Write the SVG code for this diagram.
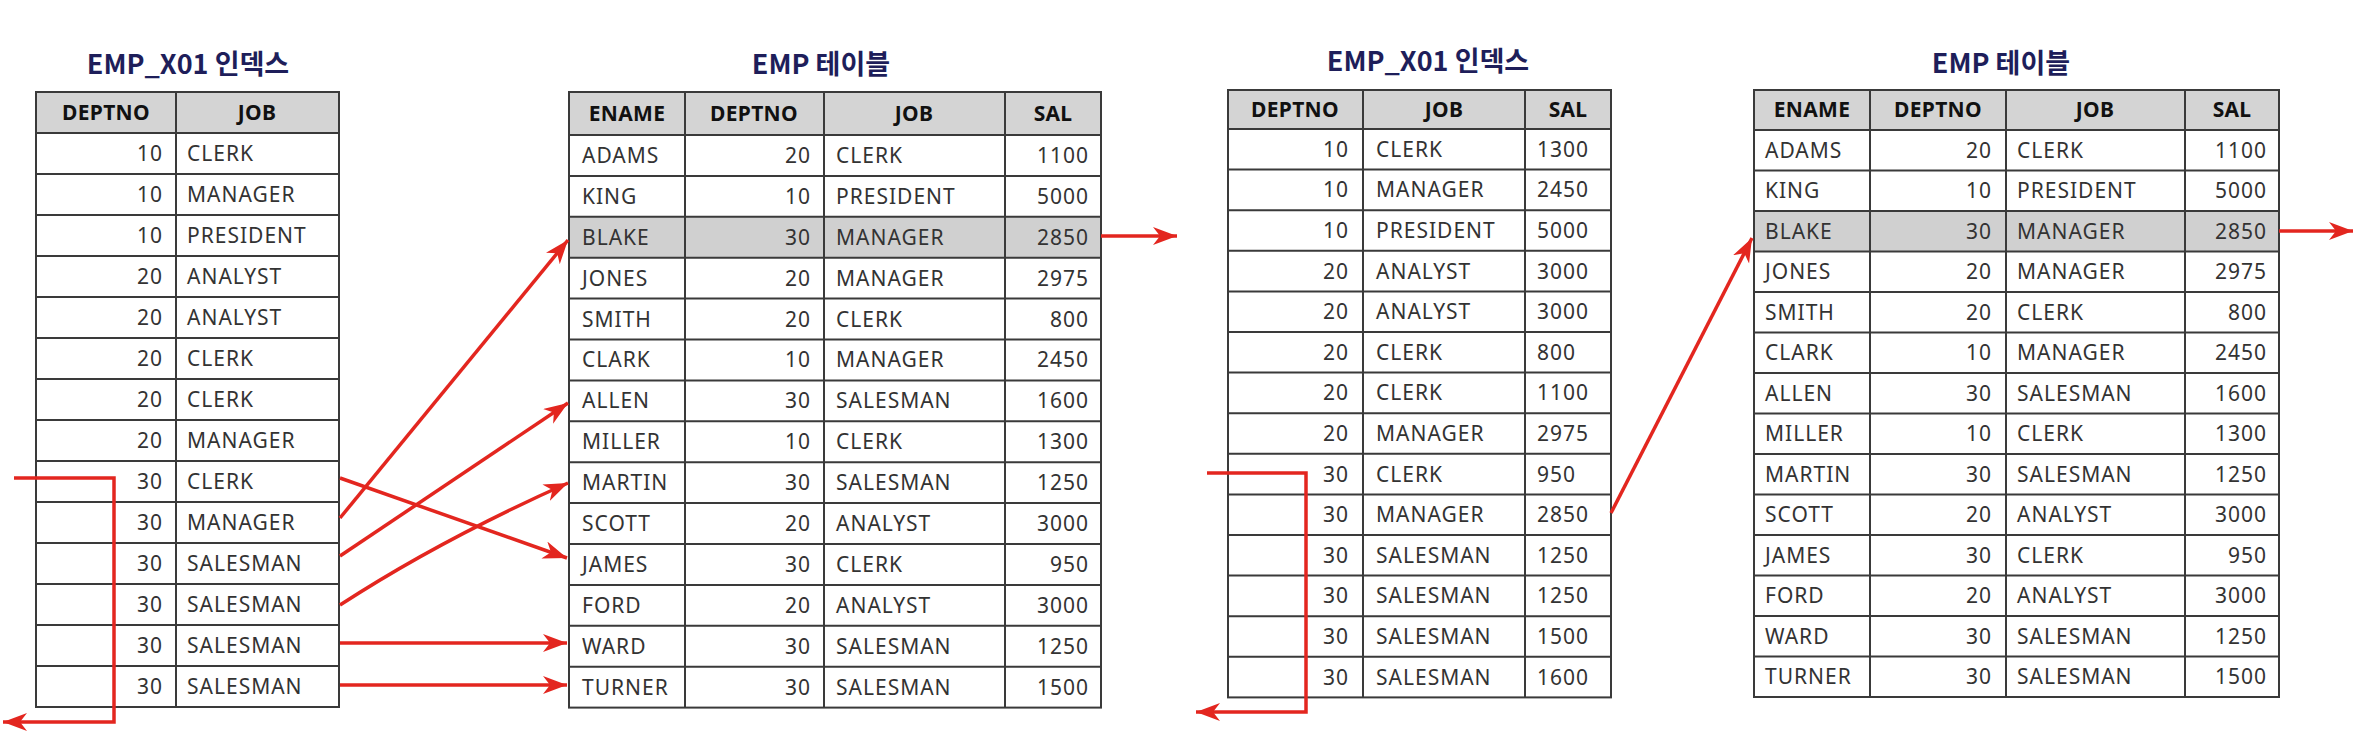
<svg xmlns="http://www.w3.org/2000/svg" width="2370" height="744" viewBox="0 0 2370 744">
<style>
.bg{fill:#fff}
.hdr{fill:#d4d4d4}
.hl{fill:#d0d0d0}
.frame{fill:none;stroke:#3a3a3a;stroke-width:2}
.grid{fill:none;stroke:#3a3a3a;stroke-width:2}
.t{font-family:"Noto Sans","Noto Sans CJK KR",sans-serif;font-size:21px;fill:#333;letter-spacing:1px}
.h{font-weight:bold;fill:#111;text-anchor:middle;letter-spacing:0.3px}
.r{text-anchor:end}
.title{font-family:"Noto Sans CJK KR","Noto Sans",sans-serif;font-size:27px;font-weight:bold;fill:#1e1e5a;text-anchor:middle}
.conn{stroke:#e3261f;stroke-width:3.5;fill:none;marker-end:url(#ah)}
</style>
<defs>
<marker id="ah" markerUnits="userSpaceOnUse" markerWidth="26" markerHeight="20" refX="24" refY="9" orient="auto">
<path d="M0,0 L24,9 L0,18 L7,9 z" fill="#e3261f"/>
</marker>
</defs>
<rect class="bg" x="0" y="0" width="2370" height="744"/>

<g id="emp-x01-index-1">
<text class="title" x="188" y="74">EMP_X01 인덱스</text>
<rect class="hdr" x="36" y="92" width="303" height="41"/>
<path class="grid" d="M36 133H339M36 174H339M36 215H339M36 256H339M36 297H339M36 338H339M36 379H339M36 420H339M36 461H339M36 502H339M36 543H339M36 584H339M36 625H339M36 666H339M176 92V707"/>
<rect class="frame" x="36" y="92" width="303" height="615"/>
<g class="t">
<text class="h" x="106" y="120">DEPTNO</text><text class="h" x="257" y="120">JOB</text>
<text class="r" x="163" y="161">10</text><text x="187" y="161">CLERK</text>
<text class="r" x="163" y="202">10</text><text x="187" y="202">MANAGER</text>
<text class="r" x="163" y="243">10</text><text x="187" y="243">PRESIDENT</text>
<text class="r" x="163" y="284">20</text><text x="187" y="284">ANALYST</text>
<text class="r" x="163" y="325">20</text><text x="187" y="325">ANALYST</text>
<text class="r" x="163" y="366">20</text><text x="187" y="366">CLERK</text>
<text class="r" x="163" y="407">20</text><text x="187" y="407">CLERK</text>
<text class="r" x="163" y="448">20</text><text x="187" y="448">MANAGER</text>
<text class="r" x="163" y="489">30</text><text x="187" y="489">CLERK</text>
<text class="r" x="163" y="530">30</text><text x="187" y="530">MANAGER</text>
<text class="r" x="163" y="571">30</text><text x="187" y="571">SALESMAN</text>
<text class="r" x="163" y="612">30</text><text x="187" y="612">SALESMAN</text>
<text class="r" x="163" y="653">30</text><text x="187" y="653">SALESMAN</text>
<text class="r" x="163" y="694">30</text><text x="187" y="694">SALESMAN</text>
</g>
</g>

<g id="emp-table-1">
<text class="title" x="821" y="74">EMP 테이블</text>
<rect class="hdr" x="569" y="92" width="532" height="43"/>
<rect class="hl" x="569" y="216.8" width="532" height="40.9"/>
<path class="grid" d="M569 135H1101M569 175.9H1101M569 216.8H1101M569 257.7H1101M569 298.6H1101M569 339.5H1101M569 380.4H1101M569 421.3H1101M569 462.2H1101M569 503.1H1101M569 544H1101M569 584.9H1101M569 625.8H1101M569 666.7H1101M685 92V707.6M824 92V707.6M1005 92V707.6"/>
<rect class="frame" x="569" y="92" width="532" height="615.6"/>
<g class="t">
<text class="h" x="627" y="121">ENAME</text><text class="h" x="754" y="121">DEPTNO</text><text class="h" x="914" y="121">JOB</text><text class="h" x="1053" y="121">SAL</text>
<text x="582" y="163">ADAMS</text><text class="r" x="811" y="163">20</text><text x="836" y="163">CLERK</text><text class="r" x="1089" y="163">1100</text>
<text x="582" y="204">KING</text><text class="r" x="811" y="204">10</text><text x="836" y="204">PRESIDENT</text><text class="r" x="1089" y="204">5000</text>
<text x="582" y="245">BLAKE</text><text class="r" x="811" y="245">30</text><text x="836" y="245">MANAGER</text><text class="r" x="1089" y="245">2850</text>
<text x="582" y="286">JONES</text><text class="r" x="811" y="286">20</text><text x="836" y="286">MANAGER</text><text class="r" x="1089" y="286">2975</text>
<text x="582" y="327">SMITH</text><text class="r" x="811" y="327">20</text><text x="836" y="327">CLERK</text><text class="r" x="1089" y="327">800</text>
<text x="582" y="367">CLARK</text><text class="r" x="811" y="367">10</text><text x="836" y="367">MANAGER</text><text class="r" x="1089" y="367">2450</text>
<text x="582" y="408">ALLEN</text><text class="r" x="811" y="408">30</text><text x="836" y="408">SALESMAN</text><text class="r" x="1089" y="408">1600</text>
<text x="582" y="449">MILLER</text><text class="r" x="811" y="449">10</text><text x="836" y="449">CLERK</text><text class="r" x="1089" y="449">1300</text>
<text x="582" y="490">MARTIN</text><text class="r" x="811" y="490">30</text><text x="836" y="490">SALESMAN</text><text class="r" x="1089" y="490">1250</text>
<text x="582" y="531">SCOTT</text><text class="r" x="811" y="531">20</text><text x="836" y="531">ANALYST</text><text class="r" x="1089" y="531">3000</text>
<text x="582" y="572">JAMES</text><text class="r" x="811" y="572">30</text><text x="836" y="572">CLERK</text><text class="r" x="1089" y="572">950</text>
<text x="582" y="613">FORD</text><text class="r" x="811" y="613">20</text><text x="836" y="613">ANALYST</text><text class="r" x="1089" y="613">3000</text>
<text x="582" y="654">WARD</text><text class="r" x="811" y="654">30</text><text x="836" y="654">SALESMAN</text><text class="r" x="1089" y="654">1250</text>
<text x="582" y="695">TURNER</text><text class="r" x="811" y="695">30</text><text x="836" y="695">SALESMAN</text><text class="r" x="1089" y="695">1500</text>
</g>
</g>

<g id="emp-x01-index-2">
<text class="title" x="1428" y="71">EMP_X01 인덱스</text>
<rect class="hdr" x="1228" y="90" width="383" height="39"/>
<path class="grid" d="M1228 129H1611M1228 169.6H1611M1228 210.2H1611M1228 250.8H1611M1228 291.4H1611M1228 332H1611M1228 372.6H1611M1228 413.2H1611M1228 453.8H1611M1228 494.4H1611M1228 535H1611M1228 575.6H1611M1228 616.2H1611M1228 656.8H1611M1363 90V697.4M1525 90V697.4"/>
<rect class="frame" x="1228" y="90" width="383" height="607.4"/>
<g class="t">
<text class="h" x="1295" y="117">DEPTNO</text><text class="h" x="1444" y="117">JOB</text><text class="h" x="1568" y="117">SAL</text>
<text class="r" x="1349" y="157">10</text><text x="1376" y="157">CLERK</text><text x="1537" y="157">1300</text>
<text class="r" x="1349" y="197">10</text><text x="1376" y="197">MANAGER</text><text x="1537" y="197">2450</text>
<text class="r" x="1349" y="238">10</text><text x="1376" y="238">PRESIDENT</text><text x="1537" y="238">5000</text>
<text class="r" x="1349" y="279">20</text><text x="1376" y="279">ANALYST</text><text x="1537" y="279">3000</text>
<text class="r" x="1349" y="319">20</text><text x="1376" y="319">ANALYST</text><text x="1537" y="319">3000</text>
<text class="r" x="1349" y="360">20</text><text x="1376" y="360">CLERK</text><text x="1537" y="360">800</text>
<text class="r" x="1349" y="400">20</text><text x="1376" y="400">CLERK</text><text x="1537" y="400">1100</text>
<text class="r" x="1349" y="441">20</text><text x="1376" y="441">MANAGER</text><text x="1537" y="441">2975</text>
<text class="r" x="1349" y="482">30</text><text x="1376" y="482">CLERK</text><text x="1537" y="482">950</text>
<text class="r" x="1349" y="522">30</text><text x="1376" y="522">MANAGER</text><text x="1537" y="522">2850</text>
<text class="r" x="1349" y="563">30</text><text x="1376" y="563">SALESMAN</text><text x="1537" y="563">1250</text>
<text class="r" x="1349" y="603">30</text><text x="1376" y="603">SALESMAN</text><text x="1537" y="603">1250</text>
<text class="r" x="1349" y="644">30</text><text x="1376" y="644">SALESMAN</text><text x="1537" y="644">1500</text>
<text class="r" x="1349" y="685">30</text><text x="1376" y="685">SALESMAN</text><text x="1537" y="685">1600</text>
</g>
</g>

<g id="emp-table-2">
<text class="title" x="2001" y="73">EMP 테이블</text>
<rect class="hdr" x="1754" y="90" width="525" height="40"/>
<rect class="hl" x="1754" y="211" width="525" height="40.5"/>
<path class="grid" d="M1754 130H2279M1754 170.5H2279M1754 211H2279M1754 251.5H2279M1754 292H2279M1754 332.5H2279M1754 373H2279M1754 413.5H2279M1754 454H2279M1754 494.5H2279M1754 535H2279M1754 575.5H2279M1754 616H2279M1754 656.5H2279M1870 90V697M2006 90V697M2185 90V697"/>
<rect class="frame" x="1754" y="90" width="525" height="607"/>
<g class="t">
<text class="h" x="1812" y="117">ENAME</text><text class="h" x="1938" y="117">DEPTNO</text><text class="h" x="2095" y="117">JOB</text><text class="h" x="2232" y="117">SAL</text>
<text x="1765" y="158">ADAMS</text><text class="r" x="1992" y="158">20</text><text x="2017" y="158">CLERK</text><text class="r" x="2267" y="158">1100</text>
<text x="1765" y="198">KING</text><text class="r" x="1992" y="198">10</text><text x="2017" y="198">PRESIDENT</text><text class="r" x="2267" y="198">5000</text>
<text x="1765" y="239">BLAKE</text><text class="r" x="1992" y="239">30</text><text x="2017" y="239">MANAGER</text><text class="r" x="2267" y="239">2850</text>
<text x="1765" y="279">JONES</text><text class="r" x="1992" y="279">20</text><text x="2017" y="279">MANAGER</text><text class="r" x="2267" y="279">2975</text>
<text x="1765" y="320">SMITH</text><text class="r" x="1992" y="320">20</text><text x="2017" y="320">CLERK</text><text class="r" x="2267" y="320">800</text>
<text x="1765" y="360">CLARK</text><text class="r" x="1992" y="360">10</text><text x="2017" y="360">MANAGER</text><text class="r" x="2267" y="360">2450</text>
<text x="1765" y="401">ALLEN</text><text class="r" x="1992" y="401">30</text><text x="2017" y="401">SALESMAN</text><text class="r" x="2267" y="401">1600</text>
<text x="1765" y="441">MILLER</text><text class="r" x="1992" y="441">10</text><text x="2017" y="441">CLERK</text><text class="r" x="2267" y="441">1300</text>
<text x="1765" y="482">MARTIN</text><text class="r" x="1992" y="482">30</text><text x="2017" y="482">SALESMAN</text><text class="r" x="2267" y="482">1250</text>
<text x="1765" y="522">SCOTT</text><text class="r" x="1992" y="522">20</text><text x="2017" y="522">ANALYST</text><text class="r" x="2267" y="522">3000</text>
<text x="1765" y="563">JAMES</text><text class="r" x="1992" y="563">30</text><text x="2017" y="563">CLERK</text><text class="r" x="2267" y="563">950</text>
<text x="1765" y="603">FORD</text><text class="r" x="1992" y="603">20</text><text x="2017" y="603">ANALYST</text><text class="r" x="2267" y="603">3000</text>
<text x="1765" y="644">WARD</text><text class="r" x="1992" y="644">30</text><text x="2017" y="644">SALESMAN</text><text class="r" x="2267" y="644">1250</text>
<text x="1765" y="684">TURNER</text><text class="r" x="1992" y="684">30</text><text x="2017" y="684">SALESMAN</text><text class="r" x="2267" y="684">1500</text>
</g>
</g>

<g id="connectors">
<path class="conn" d="M340 478L567 558"/>
<path class="conn" d="M340 518L568 240"/>
<path class="conn" d="M340 556L568 403"/>
<path class="conn" d="M340 605Q440 540 568 483"/>
<path class="conn" d="M340 643H567" stroke-width="4.5"/>
<path class="conn" d="M340 685H567" stroke-width="4.5"/>
<path class="conn" d="M1101 236H1177"/>
<path class="conn" d="M14 478H114V722H3"/>
<path class="conn" d="M1207 473H1306V712H1196"/>
<path class="conn" d="M1611 513L1752 238"/>
<path class="conn" d="M2279 231H2353"/>
</g>
</svg>
